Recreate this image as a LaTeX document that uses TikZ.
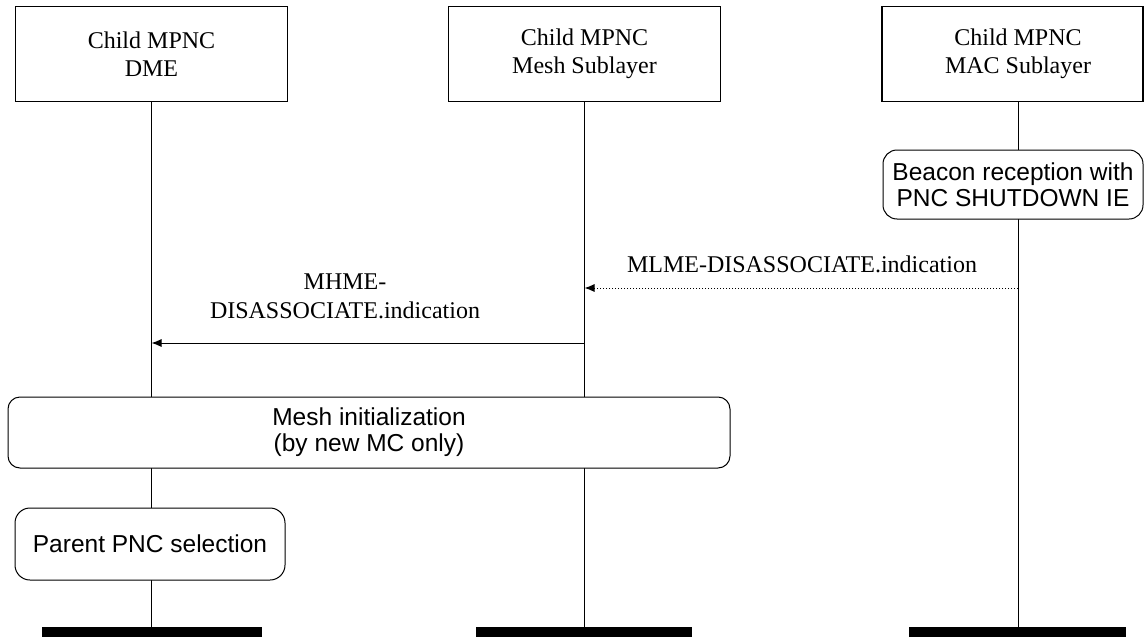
\documentclass[tikz,border=0pt]{standalone}
\usepackage{fontspec}
\setmainfont{Liberation Serif}
\setsansfont{Liberation Sans}
\usetikzlibrary{arrows.meta}
\begin{document}
\begin{tikzpicture}[x=1pt,y=-1pt,
  entity/.style={draw, line width=1.2pt, minimum height=95pt, inner sep=0pt, fill=white},
  entitytext/.style={align=center, font=\fontsize{24}{28}\selectfont, inner sep=0pt},
  action/.style={draw, line width=1pt, rounded corners=14pt, align=center,
    font=\sffamily\fontsize{24.5}{26}\selectfont, fill=white, inner sep=0pt},
  life/.style={line width=1pt},
  msg/.style={line width=1pt, -{Latex[length=10pt,width=8pt]}},
  lbl/.style={font=\fontsize{24}{29}\selectfont, align=center, inner sep=0pt},
  endbar/.style={fill=black, draw=none, minimum height=10pt, inner sep=0pt}]

\useasboundingbox (0,0) rectangle (1145,637);

% lifeline ends
\node[endbar, minimum width=220pt] (end1) at (152,632) {};
\node[endbar, minimum width=216pt] (end2) at (584,632) {};
\node[endbar, minimum width=217pt] (end3) at (1017.5,632) {};

% entity boxes
\node[entity, minimum width=272pt] (dme) at (151.5,54) {};
\node[entitytext] (dmetxt) at (151.5,54) {Child MPNC\\DME};
\node[entity, minimum width=272pt] (mesh) at (584.5,54) {};
\node[entitytext] (meshtxt) at (584.5,54) {Child MPNC\\Mesh Sublayer};
\node[entity, minimum width=261pt] (mac) at (1012.5,54) {};
\node[entitytext] (mactxt) at (1018,54) {Child MPNC\\MAC Sublayer};

% lifelines
\draw[life] (dmetxt |- dme.south) -- (dmetxt |- end1.north);
\draw[life] (meshtxt |- mesh.south) -- (meshtxt |- end2.north);
\draw[life] (mactxt |- mac.south) -- (mactxt |- end3.north);

% actions
\node[action, minimum width=260pt, minimum height=69pt] (beacon) at (1013,184.5)
  {Beacon reception with\\PNC SHUTDOWN IE};
\node[action, minimum width=722pt, minimum height=71pt, rounded corners=12pt] (init) at (369,432.5)
  {Mesh initialization\\(by new MC only)};
\node[action, minimum width=270pt, minimum height=72pt, rounded corners=15pt] (parent) at (150,544)
  {Parent PNC selection};

% messages
\coordinate (mlmeS) at (mactxt |- 0,288);
\coordinate (mlmeE) at (meshtxt |- 0,288);
\draw[msg, dotted] (mlmeS) -- (mlmeE);
\node[lbl] (mlme) at (802,264) {MLME-DISASSOCIATE.indication};

\coordinate (mhmeS) at (meshtxt |- 0,343);
\coordinate (mhmeE) at (dmetxt |- 0,343);
\draw[msg] (mhmeS) -- (mhmeE);
\node[lbl] (mhme) at (345,296) {MHME-\\DISASSOCIATE.indication};
\end{tikzpicture}
\end{document}
